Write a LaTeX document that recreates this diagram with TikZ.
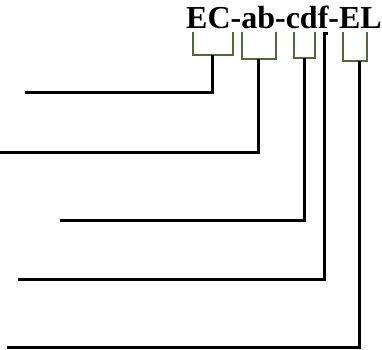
\documentclass[tikz,border=0pt]{standalone}
\usepackage{fontspec}
\setmainfont{Liberation Serif}
\usepackage{xcolor}
\usepackage{tikz}
\usetikzlibrary{positioning}
\definecolor{brgreen}{RGB}{78,108,52}

\begin{document}
\begin{tikzpicture}[x=1pt, y=1pt,
	code/.style={font=\bfseries\fontsize{32}{36}\selectfont, inner sep=0pt, anchor=base},
	brk/.style={draw=brgreen, line width=1.8pt},
	lead/.style={draw=black, line width=3pt},
]
\useasboundingbox (0,0) rectangle (382,-349);
\node [code] (name) at (284,-28) {EC-ab-cdf-EL};
%
\coordinate (b1) at (212,-55);
\coordinate (b2) at (258,-59);
\coordinate (b3) at (304,-58);
\coordinate (b4) at (324,-33);
\coordinate (b5) at (359,-61);
\coordinate (e1) at (25,-92);
\coordinate (e2) at (0,-152);
\coordinate (e3) at (60,-220);
\coordinate (e4) at (18,-279);
\coordinate (e5) at (7,-347);
%
\draw [brk] (193,-32) |- (b1) -| (233,-32);
\draw [brk] (242,-32) |- (b2) -| (276,-32);
\draw [brk] (294,-32) |- (b3) -| (315,-32);
\draw [brk] (343,-32) |- (b5) -| (367,-32);
%
\draw [lead] (b1) |- (e1);
\draw [lead] (b2) |- (e2);
\draw [lead] (b3) |- (e3);
\draw [lead] ([xshift=4]b4) -- (b4) |- (e4);
\draw [lead] (b5) |- (e5);
\end{tikzpicture}
\end{document}
